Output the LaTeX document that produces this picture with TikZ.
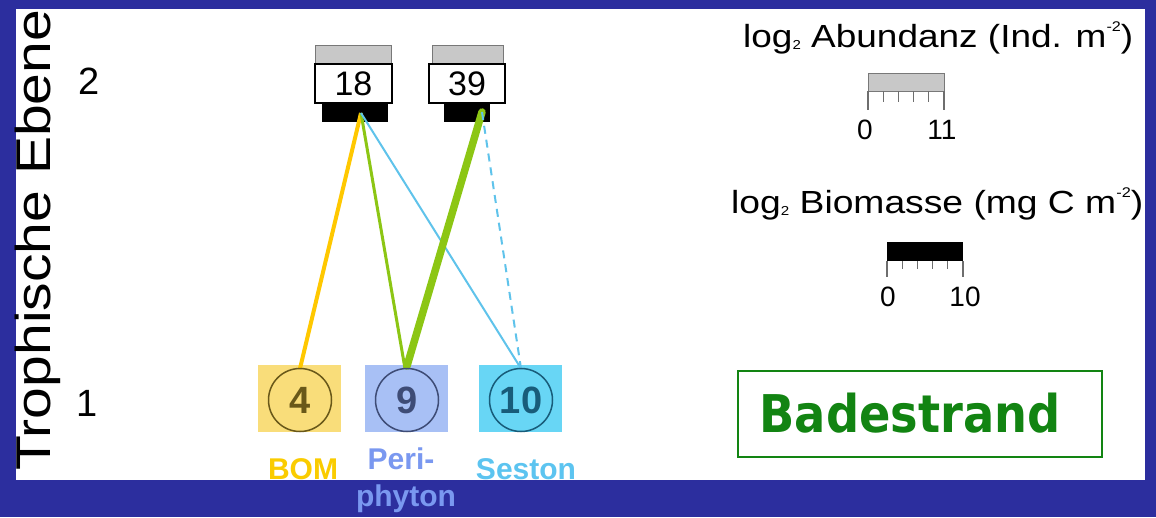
\documentclass[tikz,border=0pt]{standalone}
\usepackage{fontspec}
\usepackage{graphicx}
\setmainfont{Liberation Sans}
\newfontfamily\badefont{DejaVu Sans}

\definecolor{bgblue}{RGB}{44,46,158}
\definecolor{abgray}{RGB}{200,200,200}
\definecolor{abedge}{RGB}{120,120,120}
\definecolor{bomfill}{RGB}{249,221,122}
\definecolor{bomdark}{RGB}{105,88,25}
\definecolor{perifill}{RGB}{168,192,245}
\definecolor{peridark}{RGB}{62,76,118}
\definecolor{sesfill}{RGB}{104,214,245}
\definecolor{sesdark}{RGB}{24,92,122}
\definecolor{bomtxt}{RGB}{250,204,0}
\definecolor{peritxt}{RGB}{122,152,240}
\definecolor{sestxt}{RGB}{92,196,240}
\definecolor{yellowline}{RGB}{255,200,0}
\definecolor{greenline}{RGB}{140,198,20}
\definecolor{cyanline}{RGB}{95,195,235}
\definecolor{badegreen}{RGB}{18,132,18}
\definecolor{tickgray}{RGB}{110,110,110}

% small index and exponent as used in the legend titles
\newcommand{\smallsub}[1]{\raisebox{-2pt}{\fontsize{13}{13}\selectfont #1}}
\newcommand{\smallsup}[1]{\raisebox{16pt}{\fontsize{14}{14}\selectfont #1}}

\begin{document}
\begin{tikzpicture}[x=1pt,y=-1pt,
  abund/.style={draw=abedge, fill=abgray, line width=0.8pt, inner sep=0pt, outer sep=0pt, anchor=north west},
  numbox/.style={draw=black, fill=white, line width=1.6pt, inner sep=0pt, outer sep=0pt, anchor=north west,
    font=\fontsize{34}{34}\selectfont},
  biobar/.style={fill=black, inner sep=0pt, outer sep=0pt, anchor=north west},
  preybox/.style={minimum width=83pt, minimum height=67pt, inner sep=0pt, outer sep=0pt, anchor=north west},
  ring/.style={circle, draw, line width=1.5pt, minimum size=63pt, inner sep=0pt, outer sep=0pt,
    font=\bfseries\fontsize{38}{38}\selectfont},
  preylabel/.style={inner sep=0pt, anchor=base, font=\bfseries\fontsize{30}{30}\selectfont},
  axislabel/.style={inner sep=0pt, font=\fontsize{38}{38}\selectfont},
  legtitle/.style={inner sep=0pt, anchor=base west},
  ticklabel/.style={inner sep=0pt, anchor=base, font=\fontsize{28}{28}\selectfont},
  tick/.style={draw=tickgray, line width=1.2pt},
  link/.style={line width=2pt}
]
% slide background and white panel
\fill[bgblue] (0,0) rectangle (1156,517);
\useasboundingbox (0,0) rectangle (1156,517);
\fill[white] (16,9) rectangle (1145,480);

% axis
\node[inner sep=0pt, rotate=90, anchor=base west] (axis) at (50,471)
  {\resizebox{461pt}{\height}{\fontsize{49}{49}\selectfont Trophische Ebene}};
\node[axislabel] (lv2) at (89,81) {2};
\node[axislabel] (lv1) at (87,403) {1};

% consumers: abundance bar, taxa count, biomass bar
\node[abund, minimum width=76pt, minimum height=19pt] (a18) at (315,45) {};
\node[biobar, minimum width=66pt, minimum height=19pt] (b18) at (322,103) {};
\node[numbox, minimum width=77pt, minimum height=39pt] (n18) at (315,64) {18};
\node[abund, minimum width=71pt, minimum height=19pt] (a39) at (432,45) {};
\node[biobar, minimum width=46pt, minimum height=19pt] (b39) at (444,103) {};
\node[numbox, minimum width=76pt, minimum height=39pt] (n39) at (429,64) {39};
\coordinate (f18) at (361,113);
\coordinate (f39) at (482,112);

% food sources
\node[preybox, fill=bomfill] (sBOM) at (258,365) {};
\node[preybox, fill=perifill] (sPeri) at (365,365) {};
\node[preybox, fill=sesfill] (sSes) at (479,365) {};

% feeding links
\draw[link, yellowline, line width=4pt] (300,368.5) coordinate (e4) -- (f18);
\draw[link, greenline, line width=3pt] (405,368.5) coordinate (e9a) -- (f18);
\draw[link, cyanline] (f18) -- (521,368.5) coordinate (e10a);
\draw[link, greenline, line width=7.5pt, line cap=round] (407,366) coordinate (e9b) -- (f39);
\draw[link, cyanline, dash pattern=on 8pt off 6pt] (f39) -- (521,368.5) coordinate (e10b);

\node[ring, draw=bomdark, text=bomdark] (c4) at (300,400) {4};
\node[ring, draw=peridark, text=peridark] (c9) at (407,400) {9};
\node[ring, draw=sesdark, text=sesdark] (c10) at (521,400) {10};

\node[preylabel, text=bomtxt] (lBOM) at (303,479) {BOM};
\node[preylabel, text=peritxt] (lPeri) at (401,469) {Peri-};
\node[preylabel, text=peritxt] (lPhy) at (406,506) {phyton};
\node[preylabel, text=sestxt] (lSes) at (526,479) {Seston};

% legend: abundance
\node[legtitle] (tAb) at (743,47)
  {\resizebox{390pt}{\height}{\fontsize{32}{32}\selectfont log\smallsub{2} Abundanz (Ind. m\smallsup{-2})}};
\node[abund, minimum width=76pt, minimum height=18pt] (legA) at (868,73) {};
\draw[tick] (legA.south west) -- ++(0,19);
\draw[tick] (legA.south east) -- ++(0,19);
\foreach \i in {1,...,4} \draw[tick] ([xshift=\i*15.2pt]legA.south west) -- ++(0,11);
\node[ticklabel] (a0) at (865,139) {0};
\node[ticklabel] (a11) at (942,139) {11};

% legend: biomass
\node[legtitle] (tBio) at (731,213)
  {\resizebox{412pt}{\height}{\fontsize{32}{32}\selectfont log\smallsub{2} Biomasse (mg C m\smallsup{-2})}};
\node[biobar, minimum width=76pt, minimum height=19pt] (legB) at (887,242) {};
\draw[tick] (legB.south west) -- ++(0,16);
\draw[tick] (legB.south east) -- ++(0,16);
\foreach \i in {1,...,4} \draw[tick] ([xshift=\i*15.2pt]legB.south west) -- ++(0,8);
\node[ticklabel] (b0) at (888,306) {0};
\node[ticklabel] (b10) at (965,306) {10};

% site name
\node[draw=badegreen, line width=1.5pt, minimum width=364pt, minimum height=86pt,
  inner sep=0pt, anchor=north west] (site) at (737,370) {};
\node[inner sep=0pt, anchor=base, text=badegreen] (siteName) at (910,432)
  {\resizebox{301pt}{\height}{\badefont\bfseries\fontsize{52}{52}\selectfont Badestrand}};
\end{tikzpicture}
\end{document}
